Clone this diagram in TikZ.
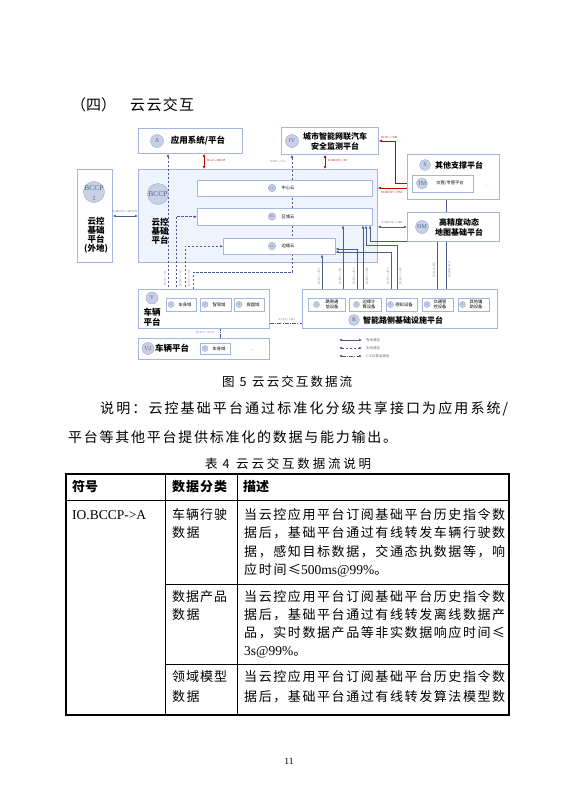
\documentclass[tikz,border=0pt]{standalone}
\usepackage{fontspec}
\setmainfont{Liberation Serif}
\newfontfamily\cjk{Noto Sans CJK SC}
\usetikzlibrary{arrows.meta}
\definecolor{boxc}{HTML}{A2B6DE}
\definecolor{bgc}{HTML}{EEF3FC}
\definecolor{circf}{HTML}{C8D0E6}
\definecolor{circd}{HTML}{9EAACB}
\definecolor{circt}{HTML}{56648F}
\definecolor{arrc}{HTML}{4A5C8C}
\definecolor{redc}{HTML}{C00000}
\definecolor{labc}{HTML}{707070}
\makeatletter
\newcommand\spreadtext[2]{\makebox[#1][s]{\sp@first#2\@nil}}
\def\sp@first#1{#1\sp@rest}
\def\sp@rest#1{\ifx#1\@nil\else\hfil#1\expandafter\sp@rest\fi}
\makeatother
\newcommand\fsz[2]{\fontsize{#1bp}{#2bp}\selectfont}
\newcommand\bx[6]{\node[#1,anchor=north west,inner sep=0pt,minimum width={(#5-#3)*1bp},minimum height={(#6-#4)*1bp}] (#2) at (#3,#4) {};}
\pgfdeclarelayer{bg}\pgfdeclarelayer{mid}\pgfsetlayers{bg,mid,main}
\begin{document}
\begin{tikzpicture}[x=1bp,y=-1bp,
  >={Latex[length=3bp,width=2.6bp]},
  box/.style={draw=boxc,line width=0.8bp,fill=white},
  bigbox/.style={draw=boxc,line width=0.8bp,fill=bgc},
  ibox/.style={draw=boxc,line width=0.5bp,fill=white},
  circlab/.style={circle,draw=circd,line width=0.4bp,fill=circf,inner sep=0pt,text=circt,font=\fsz{6}{6}},
  scirc/.style={circlab,minimum size=6bp,font=\fsz{3.5}{3.5}},
  wired/.style={draw=arrc,line width=0.7bp},
  wl/.style={wired,dash pattern=on 2.5bp off 1.5bp},
  v2x/.style={wired,dash pattern=on 4bp off 1.2bp on 1bp off 1.2bp},
  redl/.style={draw=redc,line width=0.8bp},
  tiny/.style={font=\fsz{3}{3.5},text=labc,inner sep=0pt},
  redlab/.style={font=\fsz{3}{3.5},text=redc,inner sep=0pt},
  dtxt/.style={font=\cjk\bfseries\fsz{8.5}{9},inner sep=0pt,align=center},
  stxt/.style={font=\cjk\fsz{4.3}{5},inner sep=0pt,align=center},
  body/.style={font=\cjk\fsz{14}{16},inner sep=0pt,anchor=west},
  tb/.style={font=\cjk\fsz{13}{14},inner sep=0pt,anchor=west},
  tbl/.style={line width=0.9bp,draw=black}]
\begin{pgfonlayer}{bg}
\path[use as bounding box,fill=white] (0,0) rectangle (577,794);
\end{pgfonlayer}

% heading
\node[font=\cjk\fsz{15}{18},inner sep=0pt,anchor=west] (h1) at (71,105) {（四）};
\node[font=\cjk\fsz{15}{18},inner sep=0pt,anchor=west] (h2) at (130,105) {\spreadtext{64bp}{云云交互}};

% x / y reference coordinates
\foreach \v in {168,176,181,185,190,193,204,220,292,322,325,326,343,357,363,366,370,391,395,397,437,446}
  {\coordinate (c\v) at (\v,0);}
\foreach \v in {183,188,216,241,245,249,252,272,323}
  {\coordinate (r\v) at (0,\v);}

% boxes
\begin{pgfonlayer}{bg}
\bx{bigbox}{BCCP}{138}{169}{377}{262}
\end{pgfonlayer}
\bx{box}{A}{138}{128}{242}{153}
\bx{box}{IV}{281}{127}{378}{154}
\bx{box}{S}{407}{154}{499}{199}
\bx{ibox}{TM}{412}{175}{473}{192}
\bx{box}{BCCP2}{77}{169}{112}{262}
\bx{ibox}{CC}{197}{180}{372}{196}
\bx{ibox}{RC}{197}{208}{372}{225}
\bx{ibox}{EC}{223}{238}{335}{254}
\bx{box}{HM}{407}{212}{499}{241}
\bx{box}{V}{138}{289}{269}{328}
\bx{ibox}{V1}{166}{298}{196}{311}
\bx{ibox}{V2d}{200}{298}{231}{311}
\bx{ibox}{V3}{234}{298}{264}{311}
\bx{box}{Vb}{138}{338}{269}{359}
\bx{ibox}{Vb1}{200}{343}{230}{354}
\bx{box}{R}{302}{289}{497}{328}
\bx{ibox}{R1}{308}{298}{345}{311}
\bx{ibox}{R2}{349}{298}{381}{311}
\bx{ibox}{R3}{386}{298}{417}{311}
\bx{ibox}{R4}{422}{298}{453}{311}
\bx{ibox}{R5}{458}{298}{489}{311}

% circles
\node[circlab,minimum size=13bp] (cA) at (157,141) {A};
\node[circlab,minimum size=13bp] (cIV) at (292,141) {IV};
\node[circlab,minimum size=11bp] (cS) at (425,165) {S};
\node[circlab,minimum size=11bp] (cTM) at (422,183.5) {TM};
\node[circlab,minimum size=21bp] (cB2) at (94,192) {};
\node[inner sep=0pt,text=circt,font=\fsz{7.5}{7.5}] (cB2t) at (94,188) {BCCP};
\node[inner sep=0pt,text=circt,font=\fsz{6}{6}] (cB2n) at (94,198.5) {2};
\node[circlab,minimum size=21bp] (cB) at (158,194) {};
\node[inner sep=0pt,text=circt,font=\fsz{7.5}{7.5}] (cBt) at (158,194) {BCCP};
\node[scirc,minimum size=7.5bp] (cCC) at (272,188) {CC};
\node[scirc,minimum size=7.5bp] (cRC) at (272,216.5) {RC};
\node[scirc,minimum size=7.5bp] (cEC) at (272,246) {EC};
\node[circlab,minimum size=13bp] (cHM) at (422,227) {HM};
\node[circlab,minimum size=12bp] (cV) at (152,298) {V};
\node[circlab,minimum size=12bp] (cVb) at (148,348.5) {V2};
\node[circlab,minimum size=11bp] (cR) at (354,320) {R};
\node[scirc] (nV1) at (171,304.5) {1};
\node[scirc] (nV2) at (205,304.5) {2};
\node[scirc] (nV3) at (239,304.5) {3};
\node[scirc] (nVb1) at (205,348.5) {1};
\node[scirc] (nR1) at (316.5,304.5) {1};
\node[scirc] (nR2) at (356.5,304.5) {2};
\node[scirc] (nR3) at (390.5,304.5) {3};
\node[scirc] (nR4) at (427,304.5) {4};
\node[scirc] (nR5) at (462.5,304.5) {5};

% diagram texts
\node[dtxt] (tA) at (198,141) {应用系统/平台};
\node[dtxt,font=\cjk\bfseries\fsz{8}{10}] (tIV) at (335,141) {城市智能网联汽车\\安全监测平台};
\node[dtxt,font=\cjk\bfseries\fsz{8}{10}] (tS) at (459,165) {其他支撑平台};
\node[stxt] (tTM) at (450,183.5) {交管/专管平台};
\node[tiny] (tSd) at (487,186) {......};
\node[dtxt,font=\cjk\bfseries\fsz{8.5}{8.9}] (tB2) at (96,235.5) {云控\\基础\\平台\\(外地)};
\node[dtxt,font=\cjk\bfseries\fsz{8.5}{9}] (tB) at (160,231) {云控\\基础\\平台};
\node[stxt] (tCC) at (288,188) {中心云};
\node[stxt] (tRC) at (288,216.5) {区域云};
\node[stxt] (tEC) at (288,246) {边缘云};
\node[dtxt,font=\cjk\bfseries\fsz{8}{10}] (tHM) at (459,227) {高精度动态\\地图基础平台};
\node[dtxt,font=\cjk\bfseries\fsz{8.5}{10}] (tV) at (152,317) {车辆\\平台};
\node[dtxt,font=\cjk\bfseries\fsz{8.5}{10}] (tVb) at (172,348.5) {车辆平台};
\node[stxt] (tV1) at (185,304.5) {车身域};
\node[stxt] (tV2) at (219,304.5) {智驾域};
\node[stxt] (tV3) at (253,304.5) {底盘域};
\node[stxt] (tVb1) at (219,348.5) {车身域};
\node[tiny] (tVbd) at (252,350) {......};
\node[stxt,font=\cjk\fsz{4.3}{5.2}] (tR1) at (332,304.5) {路侧通\\信设备};
\node[stxt,font=\cjk\fsz{4.3}{5.2}] (tR2) at (369,304.5) {边缘计\\算设备};
\node[stxt] (tR3) at (404,304.5) {感知设备};
\node[stxt,font=\cjk\fsz{4.3}{5.2}] (tR4) at (440,304.5) {交通管\\控设备};
\node[stxt,font=\cjk\fsz{4.3}{5.2}] (tR5) at (476,304.5) {其他辅\\助设备};
\node[dtxt,font=\cjk\bfseries\fsz{8}{9}] (tR) at (403,320) {智能路侧基础设施平台};

% legend
\coordinate (L1a) at (339,340); \coordinate (L1b) at (362,340);
\coordinate (L2a) at (339,348); \coordinate (L2b) at (362,348);
\coordinate (L3a) at (339,356); \coordinate (L3b) at (362,356);
\draw[wired,<->] (L1a) -- (L1b);
\draw[wl,<->] (L2a) -- (L2b);
\draw[v2x,<->] (L3a) -- (L3b);
\node[tiny,font=\cjk\fsz{3.5}{4},anchor=west] (lg1) at (366,340) {有线通信};
\node[tiny,font=\cjk\fsz{3.5}{4},anchor=west] (lg2) at (366,348) {无线通信};
\node[tiny,font=\cjk\fsz{3.5}{4},anchor=west] (lg3) at (366,356) {C-V2X直连通信};

% connectors
\begin{pgfonlayer}{mid}
\draw[redl,<->] (A.south -| c204) -- (BCCP.north -| c204);
\draw[redl,<->] (IV.south -| c325) -- (BCCP.north -| c325);
\draw[redl,<->] (IV.east) -- (IV.east -| c395) -- (r183 -| c395) -- (r183 -| TM.west);
\draw[redl,<->] (r188 -| BCCP.east) -- (r188 -| TM.west);
\draw[wired,<->] (r216 -| BCCP2.east) -- (r216 -| BCCP.west);
\draw[wired,<->] (HM.west -| BCCP.east) -- (HM.west);
\draw[wired,->] (HM.north -| c446) -- (TM.south -| c446);
\draw[wired,->] (HM.south -| c446) -- (R4.north -| c446);
\draw[wl,<->] (A.south -| c168) -- (V1.north -| c168);
\draw[wl,<->] (V1.north -| c176) -- (RC.west -| c176) -- (RC.west);
\draw[wl,<->] (V1.north -| c185) -- (EC.west -| c185) -- (EC.west);
\draw[wl,<->] (IV.south -| c292) -- (r272 -| c292) -- (r272 -| c193) -- (V1.north -| c193);
\draw[wired,<->] (EC.south -| c322) -- (R1.north -| c322);
\draw[wired,<->] (RC.south -| c343) -- (R1.north -| c343);
\draw[wired,<->] (r249 -| EC.east) -- (r249 -| c357) -- (R2.north -| c357);
\draw[wired,<->] (RC.south -| c363) -- (R2.north -| c363);
\draw[wired,<->] (r252 -| EC.east) -- (r252 -| c391) -- (R3.north -| c391);
\draw[wired,<->] (RC.south -| c366) -- (r245 -| c366) -- (r245 -| c397) -- (R3.north -| c397);
\draw[wired,->] (R4.north -| c437) -- (r241 -| c437) -- (r241 -| c370) -- (RC.south -| c370);
\draw[v2x,<->] (V1.south -| c190) -- (r323 -| c190) -- (r323 -| c326) -- (R1.south -| c326);
\draw[v2x,<->] (V1.south -| c181) -- (r323 -| c181) -- (r323 -| c220) -- (Vb1.north -| c220);
\end{pgfonlayer}

% connector labels
\node[redlab,anchor=west] (lb1) at (207,161) {IO.A<->BCCP};
\node[redlab,anchor=west] (lb2) at (328,161) {IO.BCCP<->IV};
\node[redlab,anchor=south west] (lb3) at (381,139) {IO.IV<->TM};
\node[redlab,anchor=north west] (lb4) at (381,191) {IO.BCCP<->TM};
\node[tiny] (lb5) at (125,212) {IO.BCCP<->BCCP2};
\node[tiny,anchor=south] (lb6) at (392,224) {IO.BCCP<->HM};
\node[tiny] (lb7) at (278,162) {IO.IV<->V.1};
\node[tiny,rotate=90] (lb8) at (165,278) {IO.A<->V.1};
\node[tiny,rotate=90] (lb9) at (180.5,278) {IO.RC<->V.1};
\node[tiny,rotate=90] (lb10) at (189,278) {IO.EC<->V.1};
\node[tiny,rotate=90] (lb11) at (319,276) {IO.EC<->R.1};
\node[tiny,rotate=90] (lb12) at (340,276) {IO.RC<->R.1};
\node[tiny,rotate=90] (lb13) at (354,276) {IO.EC<->R.2};
\node[tiny,rotate=90] (lb14) at (367,276) {IO.RC<->R.2};
\node[tiny,rotate=90] (lb15) at (388,276) {IO.EC<->R.3};
\node[tiny,rotate=90] (lb16) at (400.5,276) {IO.RC<->R.3};
\node[tiny,rotate=90] (lb17) at (434,270) {IO.R.4->RC};
\node[tiny,rotate=90] (lb18) at (449.5,270) {IO.HM->R.4};
\node[tiny] (lb19) at (287,320) {IO.V.1<->R.1};
\node[tiny] (lb20) at (205,333) {IO.V.1<->V2.1};

% caption and paragraph
\node[font=\cjk\fsz{12.5}{14},inner sep=0pt,anchor=west] (cap) at (222,382) {\makebox[30bp][l]{图\hspace{5bp}5}\spreadtext{100bp}{云云交互数据流}};
\node[body] (p1) at (100,409) {\spreadtext{408bp}{说明：云控基础平台通过标准化分级共享接口为应用系统/}};
\node[body] (p2) at (68,437) {\spreadtext{329bp}{平台等其他平台提供标准化的数据与能力输出。}};
\node[font=\cjk\fsz{12.5}{14},inner sep=0pt,anchor=west] (tcap) at (205,464) {\makebox[31bp][l]{表\hspace{5bp}4}\spreadtext{135bp}{云云交互数据流说明}};

% table
\draw[tbl,line width=1.1bp] (66,474) rectangle (509,715);
\draw[tbl] (66,500) -- (509,500);
\draw[tbl] (165,584) -- (509,584);
\draw[tbl] (165,664) -- (509,664);
\draw[tbl] (165,474) -- (165,715);
\draw[tbl] (237,474) -- (237,715);
\node[tb,font=\cjk\bfseries\fsz{13}{14}] (th1) at (72,487) {符号};
\node[tb,font=\cjk\bfseries\fsz{13}{14}] (th2) at (172,487) {\spreadtext{55bp}{数据分类}};
\node[tb,font=\cjk\bfseries\fsz{13}{14}] (th3) at (243,487) {描述};
\node[tb,font=\fsz{13.5}{14}] (s1) at (72,515) {IO.BCCP->A};
\node[tb] (k1a) at (172,515) {\spreadtext{55bp}{车辆行驶}};
\node[tb] (k1b) at (172,533) {\spreadtext{27.5bp}{数据}};
\node[tb] (d1a) at (244,515) {\spreadtext{261bp}{当云控应用平台订阅基础平台历史指令数}};
\node[tb] (d1b) at (244,533) {\spreadtext{261bp}{据后，基础平台通过有线转发车辆行驶数}};
\node[tb] (d1c) at (244,552) {\spreadtext{261bp}{据，感知目标数据，交通态执数据等，响}};
\node[tb] (d1d) at (244,570) {\spreadtext{57bp}{应时间≤}{\fontspec{Liberation Serif}\fsz{13.5}{14}500ms@99\%}。};
\node[tb] (k2a) at (172,597) {\spreadtext{55bp}{数据产品}};
\node[tb] (k2b) at (172,615) {\spreadtext{27.5bp}{数据}};
\node[tb] (d2a) at (244,597) {\spreadtext{261bp}{当云控应用平台订阅基础平台历史指令数}};
\node[tb] (d2b) at (244,615) {\spreadtext{261bp}{据后，基础平台通过有线转发离线数据产}};
\node[tb] (d2c) at (244,633) {\spreadtext{261bp}{品，实时数据产品等非实数据响应时间≤}};
\node[tb] (d2d) at (244,652) {{\fontspec{Liberation Serif}\fsz{13.5}{14}3s@99\%}。};
\node[tb] (k3a) at (172,677) {\spreadtext{55bp}{领域模型}};
\node[tb] (k3b) at (172,697) {\spreadtext{27.5bp}{数据}};
\node[tb] (d3a) at (244,677) {\spreadtext{261bp}{当云控应用平台订阅基础平台历史指令数}};
\node[tb] (d3b) at (244,697) {\spreadtext{261bp}{据后，基础平台通过有线转发算法模型数}};

% page number
\node[font=\fsz{9.5}{10},inner sep=0pt] (pg) at (289,761) {11};
\end{tikzpicture}
\end{document}
